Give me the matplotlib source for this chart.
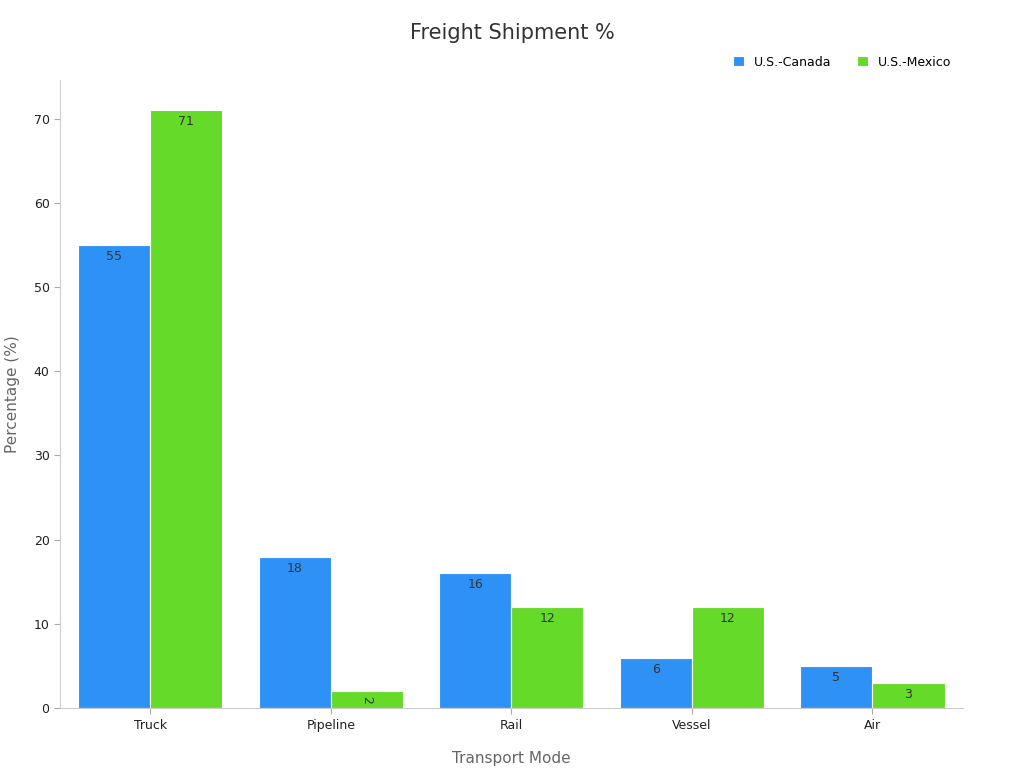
import numpy as np
import matplotlib.pyplot as plt

categories = ['Truck', 'Pipeline', 'Rail', 'Vessel', 'Air']
canada = [55, 18, 16, 6, 5]
mexico = [71, 2, 12, 12, 3]

blue = '#2e91f5'
green = '#66da29'

fig, ax = plt.subplots(figsize=(10.24, 7.68), dpi=100)
fig.subplots_adjust(left=0.0586, right=0.940, bottom=0.078, top=0.896)

x = np.arange(len(categories))
w = 0.4
b1 = ax.bar(x - w/2, canada, w, color=blue, edgecolor='white', linewidth=0.8, label='U.S.-Canada')
b2 = ax.bar(x + w/2, mexico, w, color=green, edgecolor='white', linewidth=0.8, label='U.S.-Mexico')

for bars, vals in ((b1, canada), (b2, mexico)):
    for r, v in zip(bars, vals):
        rot = -90 if v < 3 else 0
        ax.text(r.get_x() + r.get_width()/2, v - 0.6, str(v), ha='center', va='top',
                fontsize=9, color='#333333', rotation=rot)

ax.set_xlim(-0.5, 4.5)
ax.set_ylim(0, 74.6)
ax.set_xticks(x)
ax.set_xticklabels(categories)
ax.set_yticks(range(0, 71, 10))
ax.tick_params(labelsize=9, colors='#222222', length=4)
ax.tick_params(axis='both', color='#aaaaaa')
for s in ('top', 'right'):
    ax.spines[s].set_visible(False)
for s in ('left', 'bottom'):
    ax.spines[s].set_color('#cccccc')

ax.set_xlabel('Transport Mode', fontsize=11, color='#666666', labelpad=14)
ax.set_ylabel('Percentage (%)', fontsize=11, color='#666666', labelpad=10)
fig.suptitle('Freight Shipment %', x=0.5, y=0.97, fontsize=15, color='#333333')

ax.legend(loc='lower right', bbox_to_anchor=(1.0, 1.0), ncol=2, frameon=False,
          fontsize=9, handlelength=0.9, handleheight=0.9, columnspacing=2.0)

fig.savefig('out.png', dpi=100)
